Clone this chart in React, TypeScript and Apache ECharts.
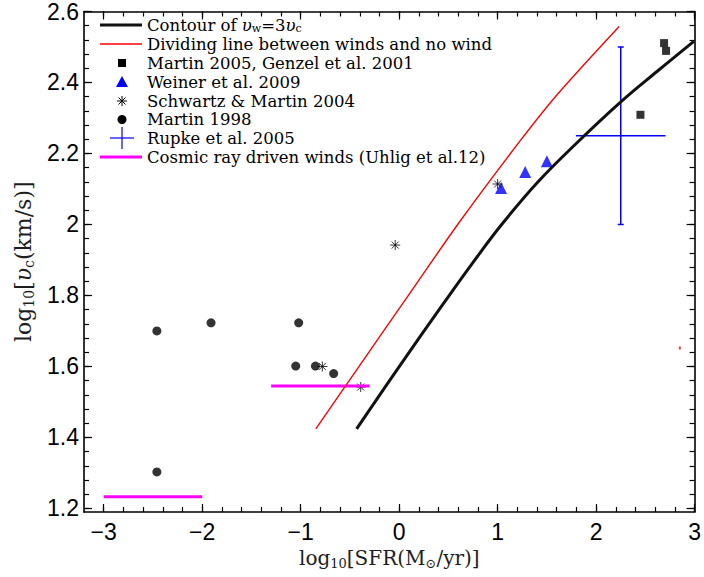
import React, { useEffect, useRef } from "react";
import * as echarts from "echarts";

// Axis tick positions
const xMajorTicks = [-3, -2, -1, 0, 1, 2, 3];
const xMinorTicks = Array.from({ length: 31 }, (_, i) => +(-3 + i * 0.2).toFixed(2));
const yMajorTicks = [1.2, 1.4, 1.6, 1.8, 2, 2.2, 2.4, 2.6];
const yMinorTicks = Array.from({ length: 36 }, (_, i) => +(1.2 + i * 0.04).toFixed(2));

// Contour of v_w = 3 v_c
const contourX = [-0.432, -0.008, 0.467, 0.76, 1.053, 1.406, 1.79, 2.245, 2.618, 2.992];
const contourY = [1.424, 1.596, 1.784, 1.897, 2.004, 2.119, 2.226, 2.344, 2.431, 2.516];

// Dividing line between winds and no wind
const dividingX = [-0.846, -0.41, 0.053, 0.618, 1.224, 1.608, 2.234];
const dividingY = [1.424, 1.599, 1.784, 2.009, 2.234, 2.367, 2.558];
const strayX = [2.85];
const strayY = [1.652];

// Martin 2005, Genzel et al. 2001
const martin05X = [2.45, 2.69, 2.71];
const martin05Y = [2.309, 2.511, 2.489];

// Weiner et al. 2009
const weinerX = [1.035, 1.28, 1.5];
const weinerY = [2.103, 2.148, 2.178];

// Schwartz & Martin 2004
const schwartzX = [-0.78, -0.39, -0.04, 1.0];
const schwartzY = [1.6, 1.542, 1.942, 2.114];

// Martin 1998
const martin98X = [-2.46, -2.46, -1.91, -1.02, -1.05, -0.85, -0.665];
const martin98Y = [1.7, 1.303, 1.723, 1.723, 1.601, 1.601, 1.58];

// Rupke et al. 2005 (centre and half-widths)
const rupkeX = [2.25];
const rupkeY = [2.25];
const rupkeXErr = [0.455];
const rupkeYErr = [0.25];

// Cosmic ray driven winds (two segments)
const crLowX = [-3.0, -2.0];
const crLowY = [1.233, 1.233];
const crHighX = [-1.3, -0.3];
const crHighY = [1.545, 1.545];

const zip = (xs: number[], ys: number[]) => xs.map((x, i) => [x, ys[i]]);

const SANS = "Liberation Sans";
const SERIF = "DejaVu Serif";
const INK = "#1e1e1e";
const ASTERISK =
  "path://M5,0L5,10M0,5L10,5M1.5,1.5L8.5,8.5M1.5,8.5L8.5,1.5";

const legendRich = {
  n: { fontFamily: SERIF, fontSize: 16.5, color: INK, lineHeight: 17 },
  i: { fontFamily: SERIF, fontSize: 16.5, fontStyle: "italic", color: INK, lineHeight: 17 },
  s: { fontFamily: SERIF, fontSize: 11, color: INK, lineHeight: 11, verticalAlign: "bottom" },
};

const xTitleRich = {
  n: { fontFamily: SERIF, fontSize: 20, color: INK, lineHeight: 24 },
  s: { fontFamily: SERIF, fontSize: 13, color: INK, lineHeight: 14, verticalAlign: "bottom" },
};

const yTitleRich = {
  n: { fontFamily: SERIF, fontSize: 22, color: INK, lineHeight: 26 },
  i: { fontFamily: SERIF, fontSize: 22, fontStyle: "italic", color: INK, lineHeight: 26 },
  s: { fontFamily: SERIF, fontSize: 14, color: INK, lineHeight: 15, verticalAlign: "bottom" },
};

const axisColor = "#000";

function makeXAxis(position: "top" | "bottom", ticks: number[], len: number, major: boolean, withLabels: boolean) {
  return {
    type: "value",
    min: -3.2,
    max: 3,
    position,
    axisLine: { show: major, onZero: false, lineStyle: { color: axisColor, width: 1.6 } },
    axisTick: { show: true, inside: true, length: len, customValues: ticks, lineStyle: { color: axisColor, width: 1.2 } },
    axisLabel: withLabels
      ? {
          show: true,
          customValues: ticks,
          margin: 8,
          fontFamily: SANS,
          fontSize: 23,
          color: "#000",
          formatter: (v: number) => String(v).replace("-", "\u2212"),
        }
      : { show: false },
    splitLine: { show: false },
    ...(withLabels
      ? {
          name: "{n|log}{s|10}{n|[SFR(M}{s|\u2299}{n|/yr)]}",
          nameLocation: "middle",
          nameGap: 31,
          nameTextStyle: { rich: xTitleRich },
        }
      : {}),
  };
}

function makeYAxis(position: "left" | "right", ticks: number[], len: number, major: boolean, withLabels: boolean) {
  return {
    type: "value",
    min: 1.19,
    max: 2.6,
    position,
    axisLine: { show: major, onZero: false, lineStyle: { color: axisColor, width: 1.6 } },
    axisTick: { show: true, inside: true, length: len, customValues: ticks, lineStyle: { color: axisColor, width: 1.2 } },
    axisLabel: withLabels
      ? { show: true, customValues: ticks, margin: 5, fontFamily: SANS, fontSize: 23, color: "#000" }
      : { show: false },
    splitLine: { show: false },
    ...(withLabels
      ? {
          name: "{n|log}{s|10}{n|[}{i|\u03c5}{s|c}{n|(km/s)]}",
          nameLocation: "middle",
          nameRotate: 90,
          nameGap: 44,
          nameTextStyle: { rich: yTitleRich },
        }
      : {}),
  };
}

function legendGraphics() {
  const lx = 100;
  const tx = 147;
  const rows = [25, 44, 63, 82, 101, 119.5, 138, 157];
  const cx = 122;
  const texts = [
    "{n|Contour of }{i|\u03c5}{s|w}{n|=3}{i|\u03c5}{s|c}",
    "{n|Dividing line between winds and no wind}",
    "{n|Martin 2005, Genzel et al. 2001}",
    "{n|Weiner et al. 2009}",
    "{n|Schwartz & Martin 2004}",
    "{n|Martin 1998}",
    "{n|Rupke et al. 2005}",
    "{n|Cosmic ray driven winds (Uhlig et al.12)}",
  ];
  const els: any[] = [];
  texts.forEach((t, k) => {
    els.push({
      type: "text",
      x: tx,
      y: rows[k],
      style: { text: t, rich: legendRich, verticalAlign: "middle", align: "left" },
    });
  });
  els.push({ type: "line", shape: { x1: lx, y1: rows[0], x2: 142, y2: rows[0] }, style: { stroke: "#111", lineWidth: 3 } });
  els.push({ type: "line", shape: { x1: lx, y1: rows[1], x2: 142, y2: rows[1] }, style: { stroke: "#ff0000", lineWidth: 1.5 } });
  els.push({ type: "rect", shape: { x: cx - 4, y: rows[2] - 4, width: 8, height: 8 }, style: { fill: "#000" } });
  els.push({
    type: "polygon",
    shape: { points: [[cx, rows[3] - 6], [cx - 6, rows[3] + 5], [cx + 6, rows[3] + 5]] },
    style: { fill: "#0000ff" },
  });
  const a = rows[4];
  const star = { stroke: "#000", lineWidth: 1 };
  els.push({ type: "line", shape: { x1: cx, y1: a - 5, x2: cx, y2: a + 5 }, style: star });
  els.push({ type: "line", shape: { x1: cx - 5, y1: a, x2: cx + 5, y2: a }, style: star });
  els.push({ type: "line", shape: { x1: cx - 3.5, y1: a - 3.5, x2: cx + 3.5, y2: a + 3.5 }, style: star });
  els.push({ type: "line", shape: { x1: cx - 3.5, y1: a + 3.5, x2: cx + 3.5, y2: a - 3.5 }, style: star });
  els.push({ type: "circle", shape: { cx, cy: rows[5], r: 4.5 }, style: { fill: "#000" } });
  els.push({ type: "line", shape: { x1: 110, y1: rows[6], x2: 134, y2: rows[6] }, style: { stroke: "#0000ff", lineWidth: 1.2 } });
  els.push({ type: "line", shape: { x1: cx, y1: rows[6] - 11, x2: cx, y2: rows[6] + 11 }, style: { stroke: "#0000ff", lineWidth: 1.2 } });
  els.push({ type: "line", shape: { x1: lx, y1: rows[7], x2: 142, y2: rows[7] }, style: { stroke: "#ff00ff", lineWidth: 3 } });
  return els;
}

export default function App() {
  const ref = useRef<HTMLDivElement>(null);

  useEffect(() => {
    if (!ref.current) return;
    const chart = echarts.init(ref.current, null, { renderer: "svg" });

    const rupkeData = rupkeX.map((x, i) => [x, rupkeY[i], rupkeXErr[i], rupkeYErr[i]]);

    chart.setOption({
      animation: false,
      backgroundColor: "#fff",
      grid: { left: 84, right: 6, top: 10, bottom: 65, containLabel: false },
      xAxis: [
        makeXAxis("bottom", xMajorTicks, 8, true, true),
        makeXAxis("bottom", xMinorTicks, 5, false, false),
        makeXAxis("top", xMajorTicks, 8, true, false),
        makeXAxis("top", xMinorTicks, 5, false, false),
      ],
      yAxis: [
        makeYAxis("left", yMajorTicks, 8, true, true),
        makeYAxis("left", yMinorTicks, 5, false, false),
        makeYAxis("right", yMajorTicks, 8, true, false),
        makeYAxis("right", yMinorTicks, 5, false, false),
      ],
      graphic: legendGraphics(),
      series: [
        {
          name: "Cosmic ray driven winds (Uhlig et al.12)",
          type: "line",
          data: zip(crLowX, crLowY),
          symbol: "none",
          lineStyle: { color: "#ff00ff", width: 3 },
        },
        {
          name: "Cosmic ray driven winds (Uhlig et al.12)",
          type: "line",
          data: zip(crHighX, crHighY),
          symbol: "none",
          lineStyle: { color: "#ff00ff", width: 3 },
        },
        {
          name: "Dividing line between winds and no wind",
          type: "line",
          data: zip(dividingX, dividingY),
          symbol: "none",
          smooth: 0.3,
          lineStyle: { color: "#ff0000", width: 1.4 },
        },
        {
          name: "Dividing line between winds and no wind",
          type: "scatter",
          data: zip(strayX, strayY),
          symbol: "rect",
          symbolSize: [2, 3],
          itemStyle: { color: "#ff0000" },
        },
        {
          name: "Contour",
          type: "line",
          data: zip(contourX, contourY),
          symbol: "none",
          smooth: 0.4,
          lineStyle: { color: "#111", width: 3 },
        },
        {
          name: "Rupke et al. 2005",
          type: "custom",
          data: rupkeData,
          renderItem: (params: any, api: any) => {
            const x = api.value(0);
            const y = api.value(1);
            const ex = api.value(2);
            const ey = api.value(3);
            const left = api.coord([x - ex, y]);
            const right = api.coord([x + ex, y]);
            const top = api.coord([x, y + ey]);
            const bottom = api.coord([x, y - ey]);
            const style = { stroke: "#0000ff", lineWidth: 1.5 };
            return {
              type: "group",
              children: [
                { type: "line", shape: { x1: left[0], y1: left[1], x2: right[0], y2: right[1] }, style },
                { type: "line", shape: { x1: top[0], y1: top[1], x2: bottom[0], y2: bottom[1] }, style },
                { type: "line", shape: { x1: top[0] - 3, y1: top[1], x2: top[0] + 3, y2: top[1] }, style },
                { type: "line", shape: { x1: bottom[0] - 3, y1: bottom[1], x2: bottom[0] + 3, y2: bottom[1] }, style },
              ],
            };
          },
        },
        {
          name: "Martin 2005, Genzel et al. 2001",
          type: "scatter",
          data: zip(martin05X, martin05Y),
          symbol: "rect",
          symbolSize: 8,
          itemStyle: { color: "#000" },
        },
        {
          name: "Weiner et al. 2009",
          type: "scatter",
          data: zip(weinerX, weinerY),
          symbol: "triangle",
          symbolSize: 12,
          itemStyle: { color: "#0000ff" },
        },
        {
          name: "Schwartz & Martin 2004",
          type: "scatter",
          data: zip(schwartzX, schwartzY),
          symbol: ASTERISK,
          symbolSize: 10,
          itemStyle: { color: "#000", borderColor: "#000", borderWidth: 1 },
        },
        {
          name: "Martin 1998",
          type: "scatter",
          data: zip(martin98X, martin98Y),
          symbol: "circle",
          symbolSize: 9,
          itemStyle: { color: "#000" },
        },
      ],
    });

    return () => chart.dispose();
  }, []);

  return (
    <div
      ref={ref}
      style={{ position: "absolute", left: 0, top: 0, width: 704, height: 577, background: "#fff" }}
    />
  );
}
